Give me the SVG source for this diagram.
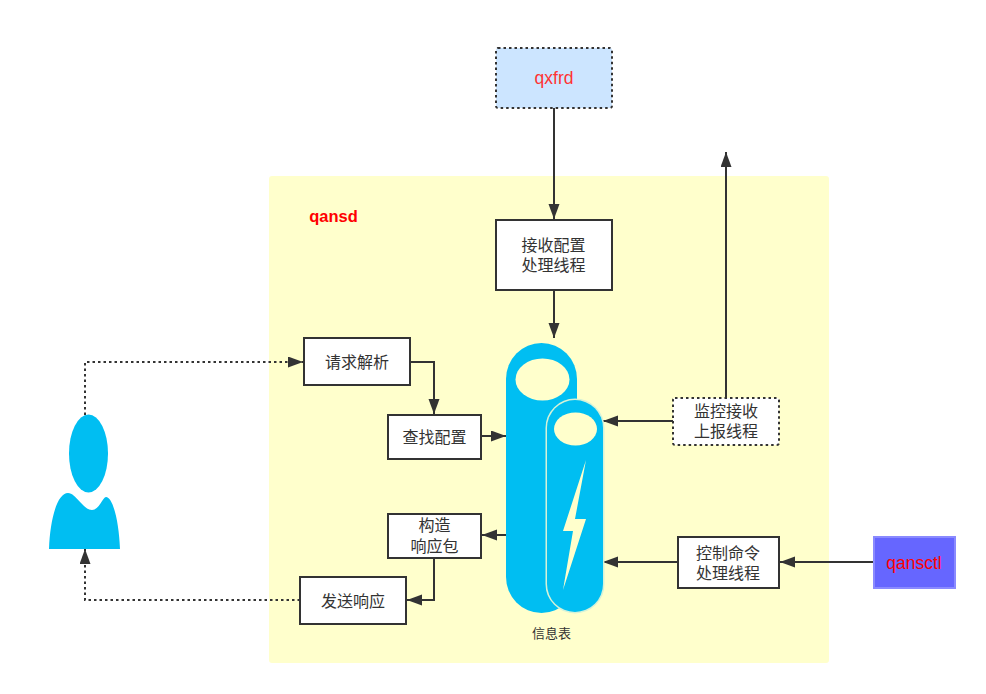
<svg xmlns="http://www.w3.org/2000/svg" width="986" height="694" viewBox="0 0 986 694">
<defs>
<marker id="arr" markerUnits="userSpaceOnUse" markerWidth="16" markerHeight="12" refX="15" refY="5.500" orient="auto"><path d="M0 0L15 5.500L0 11Z" fill="#333"/></marker>
</defs>
<style>
text{font-family:"Liberation Sans","Noto Sans CJK SC",sans-serif;font-size:16px;fill:#333;text-anchor:middle}
.b{fill:#fff;stroke:#333;stroke-width:2}
.d{stroke-dasharray:2.500 3;stroke-width:2;stroke:#333}
.c{fill:none;stroke:#333;stroke-width:2}
.cy{fill:#00bef2}
</style>
<rect x="269" y="176" width="560" height="487" rx="3" fill="#ffffcc"/>
<g id="qansd-label"><text x="333.500" y="222" style="fill:#f00;font-weight:bold;font-size:16.500px">qansd</text></g>
<g id="connectors">
<path class="c" d="M554 108V219" marker-end="url(#arr)"/>
<path class="c" d="M554 290V338" marker-end="url(#arr)"/>
<path class="c" d="M726 398V152" marker-end="url(#arr)"/>
<path class="c" d="M673 421H603" marker-end="url(#arr)"/>
<path class="c" d="M677 562H603" marker-end="url(#arr)"/>
<path class="c" d="M873 562H780" marker-end="url(#arr)"/>
<path class="c" d="M411 362H434V414" marker-end="url(#arr)"/>
<path class="c" d="M481 436H506" marker-end="url(#arr)"/>
<path class="c" d="M506 535H482" marker-end="url(#arr)"/>
<path class="c" d="M434 558V600H407" marker-end="url(#arr)"/>
<path class="c" style="stroke-dasharray:2.500 3" d="M85 415V362H303" marker-end="url(#arr)"/>
<path class="c" style="stroke-dasharray:2.500 3" d="M300 600H85V549" marker-end="url(#arr)"/>
</g>
<g id="qxfrd"><rect x="496" y="48" width="116" height="60" rx="2" fill="#cce5ff" class="d"/><text x="554" y="84" style="fill:#ff3333;font-size:17.500px">qxfrd</text></g>
<g id="recv"><rect class="b" x="496" y="220" width="116" height="70"/><text x="553.500" y="251">接收配置</text><text x="553.500" y="271">处理线程</text></g>
<g id="parse"><rect class="b" x="304" y="338" width="106" height="47"/><text x="357" y="368">请求解析</text></g>
<g id="lookup"><rect class="b" x="388" y="415" width="93" height="44"/><text x="434.500" y="443">查找配置</text></g>
<g id="build"><rect class="b" x="388" y="514" width="93" height="44"/><text x="434.500" y="531">构造</text><text x="434.500" y="552">响应包</text></g>
<g id="send"><rect class="b" x="300" y="577" width="106" height="47"/><text x="353" y="607">发送响应</text></g>
<g id="monitor"><rect x="673" y="398" width="106" height="47" rx="2" fill="#fff" class="d"/><text x="726" y="417">监控接收</text><text x="726" y="437">上报线程</text></g>
<g id="ctrl"><rect class="b" x="678" y="537" width="101" height="51"/><text x="728" y="559">控制命令</text><text x="728" y="579">处理线程</text></g>
<g id="qansctl"><rect x="874" y="537" width="81" height="51" fill="#6666ff" stroke="#8a8aff" stroke-width="2"/><text x="914" y="569" style="fill:#f00;font-size:17.500px">qansctl</text></g>
<g id="user" class="cy">
<ellipse cx="88.500" cy="453.500" rx="19.500" ry="39"/>
<path d="M49 549C50 520 57 493 68 493C76 493 83 510 92 510C99 510 103 497 106 497C113 497 119 522 120 549Z"/>
</g>
<g id="table">
<path class="cy" d="M506 379a35.500 36 0 0 1 71 0V577a35.500 36 0 0 1-71 0Z"/>
<ellipse cx="542.500" cy="379.500" rx="27" ry="21" fill="#ffffcc"/>
<path d="M547 428a28 28 0 0 1 56 0V584a28 28 0 0 1-56 0Z" fill="none" stroke="#d5f2d8" stroke-width="3"/>
<path class="cy" d="M547 428a28 28 0 0 1 56 0V584a28 28 0 0 1-56 0Z"/>
<ellipse cx="575.500" cy="429" rx="21.500" ry="16.500" fill="#ffffcc"/>
<path d="M586 460L563 531H573L563 590L586 519H575Z" fill="#ffffcc"/>
<text x="551.500" y="638" style="font-size:13px">信息表</text>
</g>
</svg>
